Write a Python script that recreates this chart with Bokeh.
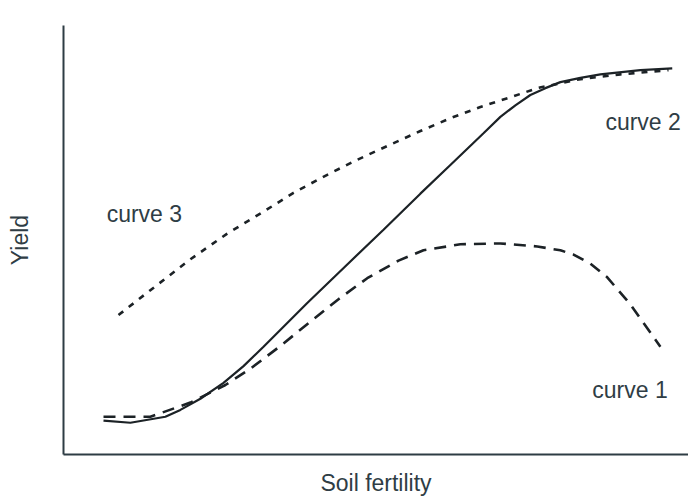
from bokeh.plotting import figure
from bokeh.models import Range1d, FixedTicker, ColumnDataSource
from bokeh.core.properties import value
from bokeh.embed import file_html
from bokeh.resources import INLINE

# Conceptual chart: x = soil fertility (0-100), y = yield (0-100)
curve2_x = [6.4, 10.7, 16.3, 18.7, 21.9, 25.6, 28.8, 32.0, 39.0, 45.4, 51.2, 57.1, 61.9, 67.2, 69.9, 72.3,
            74.7, 77.1, 79.5, 82.7, 85.9, 92.3, 97.4]
curve2_y = [7.9, 7.4, 8.8, 10.4, 13.0, 16.7, 20.6, 25.1, 35.3, 44.3, 52.4, 60.8, 67.5, 74.9, 78.7, 81.4,
            83.8, 85.4, 86.8, 87.8, 88.6, 89.6, 90.0]

curve1_x = [6.4, 13.9, 20.3, 25.9, 29.9, 34.7, 39.2, 44.0, 48.6, 53.6, 57.6, 63.5, 69.9, 75.8, 79.5, 81.6,
            84.3, 87.0, 90.7, 95.5]
curve1_y = [8.8, 8.8, 12.1, 16.2, 20.0, 25.3, 30.6, 36.2, 41.1, 45.2, 47.6, 49.0, 49.2, 48.5, 47.6, 46.6,
            44.5, 41.3, 35.0, 25.1]

curve3_x = [8.8, 13.9, 20.3, 26.2, 32.0, 36.8, 42.2, 47.0, 51.8, 57.1, 61.9, 66.7, 72.0, 75.8, 82.7, 89.1, 96.8]
curve3_y = [32.5, 38.3, 45.5, 51.5, 56.6, 61.0, 65.2, 68.7, 71.9, 75.4, 78.4, 81.0, 83.5, 85.4, 87.5, 88.6, 89.6]

label_text = ["curve 3", "curve 2", "curve 1"]
label_x = [6.9, 86.7, 84.6]
label_y = [56.1, 77.5, 15.1]

AXIS_COLOR = "#2e3c44"
TEXT_COLOR = "#2f3d45"
LINE_COLOR = "#1c2226"
FONT = "Liberation Sans"

p = figure(width=688, height=498, output_backend="svg", toolbar_location=None,
           x_range=Range1d(0, 100), y_range=Range1d(0, 100),
           min_border_left=63, min_border_top=25, min_border_right=0, min_border_bottom=42)
p.outline_line_color = None
p.grid.grid_line_color = None
p.background_fill_color = "white"

for ax in (p.xaxis[0], p.yaxis[0]):
    ax.ticker = FixedTicker(ticks=[])
    ax.major_tick_line_color = None
    ax.minor_tick_line_color = None
    ax.major_tick_out = 0
    ax.major_label_text_font_size = "0px"
    ax.axis_line_color = AXIS_COLOR
    ax.axis_line_width = 2
    ax.axis_label_text_font = FONT
    ax.axis_label_text_font_style = "normal"
    ax.axis_label_text_font_size = "23px"
    ax.axis_label_text_color = TEXT_COLOR

p.xaxis.axis_label = "Soil fertility"
p.xaxis.axis_label_standoff = 15
p.yaxis.axis_label = "Yield"
p.yaxis.axis_label_standoff = 31

p.line(curve2_x, curve2_y, line_color=LINE_COLOR, line_width=2.2)
p.line(curve1_x, curve1_y, line_color=LINE_COLOR, line_width=2.6, line_dash="12 8")
p.line(curve3_x, curve3_y, line_color=LINE_COLOR, line_width=2.6, line_dash="6 7")

src = ColumnDataSource(dict(x=label_x, y=label_y, t=label_text))
p.text(x="x", y="y", text="t", source=src, text_font=value(FONT), text_font_size="23px",
       text_color=TEXT_COLOR, text_align="left", text_baseline="middle")

open("out.html", "w").write(file_html(p, INLINE))
